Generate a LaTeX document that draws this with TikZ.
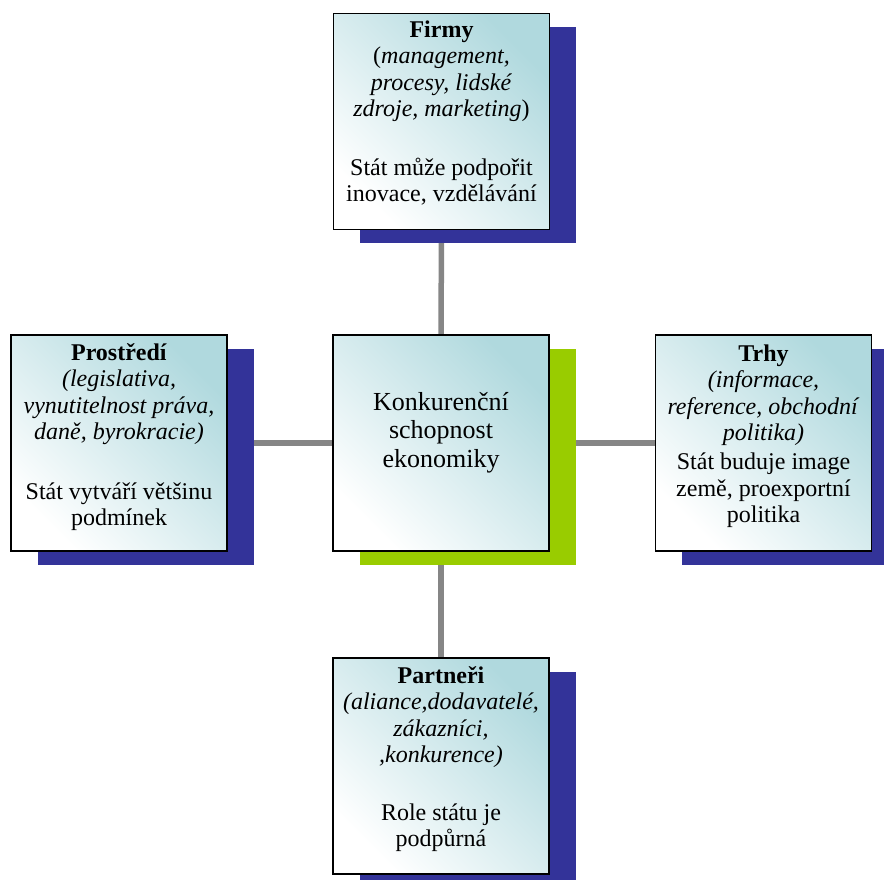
\documentclass[tikz,border=0pt]{standalone}
\usepackage{fontspec}
\setmainfont{Liberation Serif}
\usetikzlibrary{shadows,backgrounds}
\definecolor{shblue}{RGB}{51,51,153}
\definecolor{shgreen}{RGB}{153,204,0}
\definecolor{tealc}{RGB}{176,217,222}
\definecolor{linegray}{RGB}{134,134,134}
\tikzset{
  box/.style={draw=black, line width=1.8pt, minimum width=216pt, minimum height=216pt,
    inner sep=0pt, top color=tealc, middle color=white!80!tealc, bottom color=white, shading angle=-45},
  blueshadow/.style={drop shadow={shadow xshift=26.5pt, shadow yshift=-13.5pt, fill=shblue, opacity=1}},
  greenshadow/.style={drop shadow={shadow xshift=26.5pt, shadow yshift=-13.5pt, fill=shgreen, opacity=1}},
  txt/.style={align=center, inner sep=0pt, anchor=north, font=\fontsize{24}{26.4}\selectfont},
  ctxt/.style={align=center, inner sep=0pt, anchor=north, font=\fontsize{26}{28.5}\selectfont},
  conn/.style={draw=linegray, line width=5.5pt}
}
\newcommand{\fs}{\rule{0pt}{20pt}}
\begin{document}
\begin{tikzpicture}[x=1pt,y=-1pt]
\useasboundingbox (0,0) rectangle (884,879);
% boxes
\node[box, blueshadow] (firmy) at (441.5,121.5) {};
\node[box, blueshadow] (prostredi) at (119,443) {};
\node[box, blueshadow] (trhy) at (763.5,443) {};
\node[box, blueshadow] (partneri) at (441,766) {};
\node[box, greenshadow] (center) at (441,443) {};
% connectors behind
\begin{pgfonlayer}{background}
\draw[conn] (firmy.south) -- (center.north);
\draw[conn] (center.south) -- (partneri.north);
\draw[conn] (prostredi.east) -- (center.west);
\draw[conn] (center.east) -- (trhy.west);
\end{pgfonlayer}
% texts
\node[txt] (firmyT) at (441.5,17) {\fs\textbf{Firmy}\\(\textit{management,}\\\textit{procesy, lidské}\\\textit{zdroje, marketing})\\[32.6pt]Stát může podpořit\\inovace, vzdělávání};
\node[txt] (prostrediT) at (119,340) {\fs\textbf{Prostředí}\\\textit{(legislativa,}\\\textit{vynutitelnost práva,}\\\textit{daně, byrokracie)}\\[33.6pt]Stát vytváří většinu\\podmínek};
\node[txt] (trhyT) at (763.5,341) {\fs\textbf{Trhy}\\\textit{(informace,}\\\textit{reference, obchodní}\\\textit{politika)}\\[3pt]Stát buduje image\\země, proexportní\\politika};
\node[txt] (partneriT) at (441,663) {\fs\textbf{Partneři}\\\textit{(aliance,dodavatelé,}\\\textit{zákazníci,}\\\textit{,konkurence)}\\[31.6pt]Role státu je\\podpůrná};
\node[ctxt] (centerT) at (441,390) {\fs Konkurenční\\schopnost\\ekonomiky};
\end{tikzpicture}
\end{document}
